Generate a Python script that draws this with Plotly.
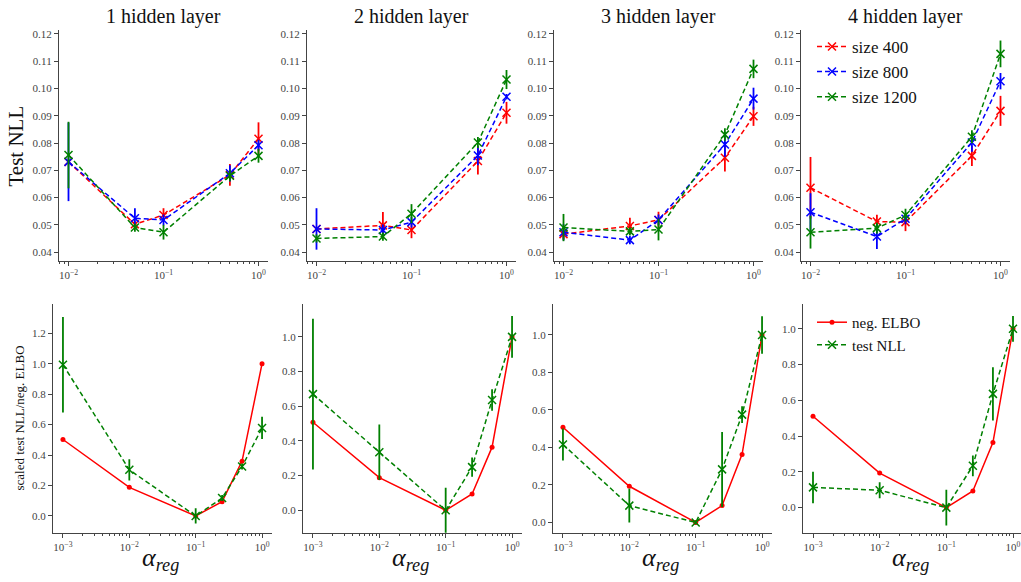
import plotly.graph_objects as go

# ---------------- data ----------------
alpha_top = [0.01, 0.05, 0.1, 0.5, 1.0]
alpha_bot = [0.001, 0.01, 0.1, 0.25, 0.5, 1.0]
panel_titles = ["1 hidden layer", "2 hidden layer", "3 hidden layer", "4 hidden layer"]
size_labels = ["size 400", "size 800", "size 1200"]

# Test NLL per panel: [size400, size800, size1200]
nll_vals = [
    [[0.0731, 0.0502, 0.0536, 0.0683, 0.0816],
     [0.0731, 0.0524, 0.0518, 0.0689, 0.0792],
     [0.0756, 0.0490, 0.0473, 0.0680, 0.0753]],
    [[0.0485, 0.0498, 0.0481, 0.0734, 0.0911],
     [0.0485, 0.0481, 0.0510, 0.0754, 0.0970],
     [0.0450, 0.0457, 0.0541, 0.0802, 0.1033]],
    [[0.0466, 0.0496, 0.0518, 0.0746, 0.0898],
     [0.0473, 0.0444, 0.0518, 0.0795, 0.0963],
     [0.0490, 0.0476, 0.0483, 0.0831, 0.1072]],
    [[0.0636, 0.0512, 0.0510, 0.0753, 0.0918],
     [0.0546, 0.0457, 0.0522, 0.0802, 0.1027],
     [0.0473, 0.0488, 0.0536, 0.0823, 0.1127]],
]
nll_errs = [
    [[0.0008, 0.0010, 0.0025, 0.0040, 0.0060],
     [0.0144, 0.0037, 0.0020, 0.0030, 0.0020],
     [0.0122, 0.0015, 0.0027, 0.0020, 0.0025]],
    [[0.0008, 0.0049, 0.0030, 0.0049, 0.0040],
     [0.0076, 0.0020, 0.0020, 0.0035, 0.0010],
     [0.0015, 0.0015, 0.0035, 0.0020, 0.0035]],
    [[0.0020, 0.0030, 0.0030, 0.0050, 0.0035],
     [0.0030, 0.0015, 0.0020, 0.0045, 0.0040],
     [0.0050, 0.0015, 0.0040, 0.0023, 0.0034]],
    [[0.0113, 0.0025, 0.0033, 0.0037, 0.0055],
     [0.0070, 0.0046, 0.0020, 0.0034, 0.0030],
     [0.0060, 0.0020, 0.0023, 0.0024, 0.0049]],
]

# scaled curves (bottom row)
elbo_vals = [
    [0.502, 0.188, 0.0, 0.094, 0.360, 1.0],
    [0.508, 0.188, 0.0, 0.094, 0.364, 1.0],
    [0.508, 0.193, 0.0, 0.090, 0.363, 1.0],
    [0.511, 0.193, 0.0, 0.093, 0.364, 1.0],
]
scaled_nll_vals = [
    [0.993, 0.303, 0.0, 0.118, 0.325, 0.578],
    [0.670, 0.335, 0.0, 0.249, 0.636, 1.0],
    [0.416, 0.090, 0.0, 0.283, 0.575, 1.0],
    [0.113, 0.097, 0.0, 0.234, 0.636, 1.0],
]
scaled_nll_errs = [
    [0.313, 0.070, 0.050, 0.020, 0.020, 0.073],
    [0.435, 0.160, 0.130, 0.055, 0.062, 0.120],
    [0.085, 0.090, 0.010, 0.200, 0.045, 0.100],
    [0.088, 0.045, 0.100, 0.058, 0.149, 0.072],
]

size_colors = ["#ff0000", "#0000ff", "#008000"]
FONT = "Liberation Serif"
W, H = 1021, 582

# ---------------- layout geometry (pixels) ----------------
top_x_px = [(59, 268), (307, 516), (554, 763), (801, 1010)]
bot_x_px = [(53, 272), (303, 522), (553, 772), (803, 1021)]
top_y_px = (28, 260)
bot_y_px = (303, 533)
bot_x_ranges = [[-3.15, 0.15], [-3.15, 0.15], [-3.15, 0.15], [-3.15, 0.12]]
bot_y_ranges = [[-0.113, 1.392], [-0.132, 1.19], [-0.057, 1.165], [-0.143, 1.139]]

def dom_x(a, b):
    return [a / W, b / W]

def dom_y(t, b):
    return [1 - b / H, 1 - t / H]

fig = go.Figure()
layout = {}

minor_top = [k * 10.0 ** e for e in (-3, -2, -1) for k in range(2, 10)]

axis_common = dict(
    showline=True, linecolor="#444444", linewidth=1.2, ticks="outside",
    ticklen=4, tickwidth=1, tickcolor="#444444", showgrid=False, zeroline=False,
    tickfont=dict(family=FONT, size=11, color="#444444"),
)

for i in range(4):
    # top panel
    xa = f"xaxis{i + 1}" if i else "xaxis"
    ya = f"yaxis{i + 1}" if i else "yaxis"
    xref = f"x{i + 1}" if i else "x"
    yref = f"y{i + 1}" if i else "y"
    layout[xa] = dict(axis_common, type="log", domain=dom_x(*top_x_px[i]), range=[-2.1, 0.1],
                      anchor=yref, tickvals=[0.01, 0.1, 1],
                      ticktext=["10<sup>−2</sup>", "10<sup>−1</sup>", "10<sup>0</sup>"],
                      minor=dict(ticks="outside", ticklen=2, tickcolor="#444444",
                                 tickvals=minor_top, showgrid=False))
    layout[ya] = dict(axis_common, domain=dom_y(*top_y_px), range=[0.0367, 0.1215],
                      anchor=xref, tickvals=[0.04, 0.05, 0.06, 0.07, 0.08, 0.09, 0.10, 0.11, 0.12],
                      tickformat=".2f")
    for s in range(3):
        c = size_colors[s]
        fig.add_trace(go.Scatter(
            x=alpha_top, y=nll_vals[i][s], xaxis=xref, yaxis=yref,
            mode="lines+markers", name=size_labels[s], showlegend=(i == 3),
            legend="legend",
            line=dict(color=c, dash="5px,3px", width=1.5),
            marker=dict(symbol="x-thin", size=8, color=c, line=dict(width=1.5, color=c)),
            error_y=dict(type="data", array=nll_errs[i][s], thickness=1.8, width=0, color=c),
        ))

    # bottom panel
    j = i + 5
    xa2, ya2 = f"xaxis{j}", f"yaxis{j}"
    xref2, yref2 = f"x{j}", f"y{j}"
    layout[xa2] = dict(axis_common, type="log", domain=dom_x(*bot_x_px[i]), range=bot_x_ranges[i],
                       anchor=yref2, tickvals=[0.001, 0.01, 0.1, 1],
                       ticktext=["10<sup>−3</sup>", "10<sup>−2</sup>", "10<sup>−1</sup>", "10<sup>0</sup>"],
                       minor=dict(ticks="outside", ticklen=2, tickcolor="#444444",
                                  tickvals=minor_top, showgrid=False))
    layout[ya2] = dict(axis_common, domain=dom_y(*bot_y_px), range=bot_y_ranges[i],
                       anchor=xref2, dtick=0.2, tick0=0, tickformat=".1f")
    fig.add_trace(go.Scatter(
        x=alpha_bot, y=elbo_vals[i], xaxis=xref2, yaxis=yref2,
        mode="lines+markers", name="neg. ELBO", showlegend=(i == 3), legend="legend2",
        line=dict(color="#ff0000", width=1.5),
        marker=dict(symbol="circle", size=5, color="#ff0000"),
    ))
    fig.add_trace(go.Scatter(
        x=alpha_bot, y=scaled_nll_vals[i], xaxis=xref2, yaxis=yref2,
        mode="lines+markers", name="test NLL", showlegend=(i == 3), legend="legend2",
        line=dict(color="#008000", dash="5px,3px", width=1.5),
        marker=dict(symbol="x-thin", size=8, color="#008000", line=dict(width=1.5, color="#008000")),
        error_y=dict(type="data", array=scaled_nll_errs[i], thickness=1.8, width=0, color="#008000"),
    ))

annotations = []
title_cx = [163, 411, 658, 905]
for i in range(4):
    annotations.append(dict(text=panel_titles[i], x=title_cx[i] / W, y=1 - 15 / H, xref="paper", yref="paper",
                            showarrow=False, font=dict(family=FONT, size=20, color="#111111"),
                            xanchor="center", yanchor="middle"))
    cx = (bot_x_px[i][0] + bot_x_px[i][1]) / 2
    annotations.append(dict(text="<i>α</i><sub><i>reg</i></sub>", x=(cx - 2) / W, y=1 - 559 / H,
                            xref="paper", yref="paper", showarrow=False,
                            font=dict(family=FONT, size=26, color="#111111"),
                            xanchor="center", yanchor="middle"))
annotations.append(dict(text="Test NLL", x=16 / W, y=1 - 145 / H, xref="paper", yref="paper",
                        showarrow=False, textangle=-90, font=dict(family=FONT, size=21, color="#111111"),
                        xanchor="center", yanchor="middle"))
annotations.append(dict(text="scaled test NLL/neg. ELBO", x=20 / W, y=1 - 418 / H, xref="paper",
                        yref="paper", showarrow=False, textangle=-90,
                        font=dict(family=FONT, size=13, color="#111111"),
                        xanchor="center", yanchor="middle"))

fig.update_layout(
    width=W, height=H, margin=dict(l=0, r=0, t=0, b=0),
    paper_bgcolor="white", plot_bgcolor="white",
    font=dict(family=FONT, color="#111111"),
    annotations=annotations,
    legend=dict(x=812 / W, y=1 - 27 / H, xanchor="left", yanchor="top", bgcolor="rgba(0,0,0,0)",
                font=dict(family=FONT, size=17, color="#111111"), tracegroupgap=0),
    legend2=dict(x=812 / W, y=1 - 305 / H, xanchor="left", yanchor="top", bgcolor="rgba(0,0,0,0)",
                 font=dict(family=FONT, size=15, color="#111111"), tracegroupgap=0),
    **layout,
)

fig.write_html("out.html")
